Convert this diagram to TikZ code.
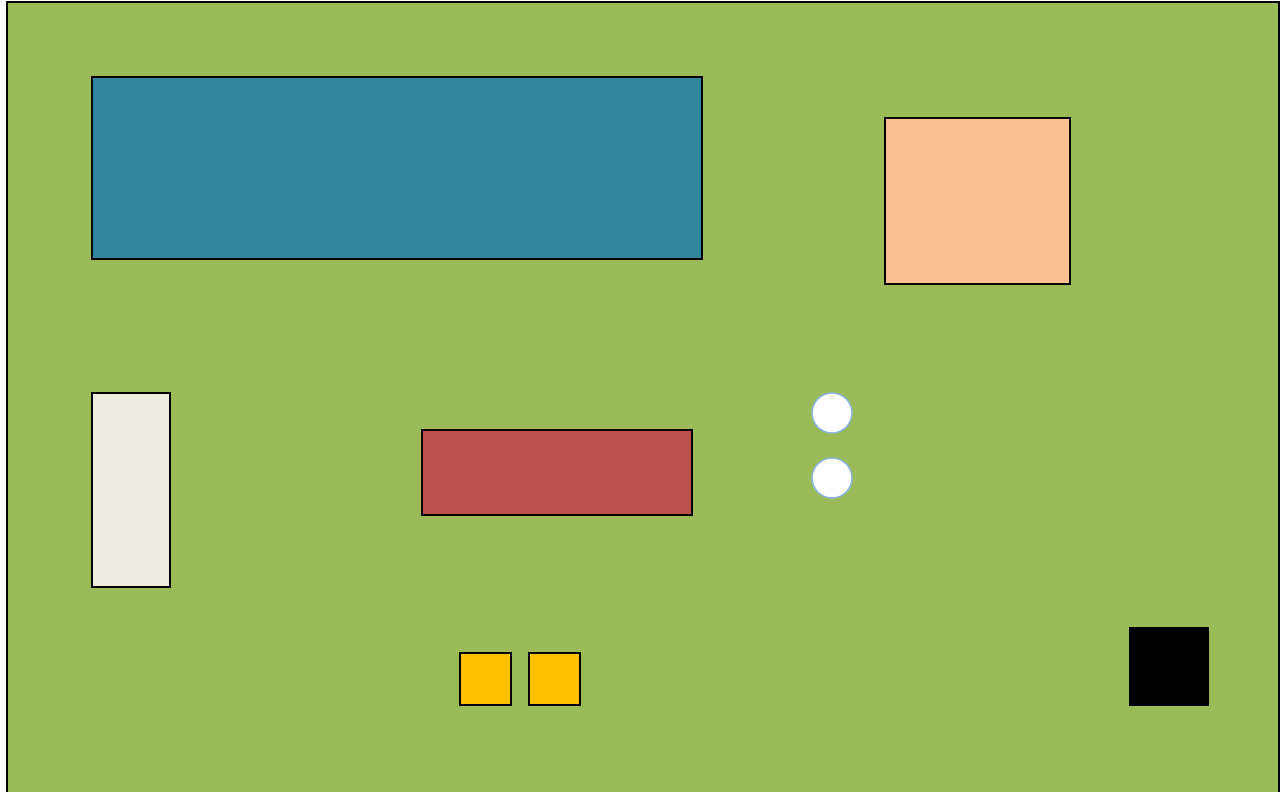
\documentclass[tikz,border=0pt]{standalone}
\usetikzlibrary{positioning}

\definecolor{boardGreen}{HTML}{9BBB59}
\definecolor{tealBlue}{HTML}{31859C}
\definecolor{peach}{HTML}{FAC090}
\definecolor{creamWhite}{HTML}{EEECE1}
\definecolor{brickRed}{HTML}{C0504D}
\definecolor{gold}{HTML}{FFC000}
\definecolor{paleBlue}{HTML}{8DB4E2}

\begin{document}
\begin{tikzpicture}[
		x=0.02cm, y=-0.02cm,
		% Styles
		block/.style={draw=black, line width=0.8pt, fill=#1},
		hole/.style={draw=paleBlue, line width=0.8pt, fill=white}
		]
		
		\useasboundingbox (0,0) rectangle (1281,791);
		
		% =========================================================
		% 1. BOARD
		% =========================================================
		\draw[block=boardGreen] (7,2) rectangle (1279,810);
		
		% =========================================================
		% 2. BLOCKS
		% =========================================================
		\draw[block=tealBlue] (92,77) rectangle (702,259);
		\draw[block=peach] (885,118) rectangle (1070,284);
		\draw[block=creamWhite] (92,393) rectangle (170,587);
		\draw[block=brickRed] (422,430) rectangle (692,515);
		
		% small squares
		\draw[block=gold] (460,653) rectangle (511,705);
		\draw[block=gold] (529,653) rectangle (580,705);
		\draw[block=black] (1130,628) rectangle (1208,705);
		
		% =========================================================
		% 3. HOLES
		% =========================================================
		\draw[hole] (832,413) circle (20);
		\draw[hole] (832,478) circle (20);
		
	\end{tikzpicture}
\end{document}
